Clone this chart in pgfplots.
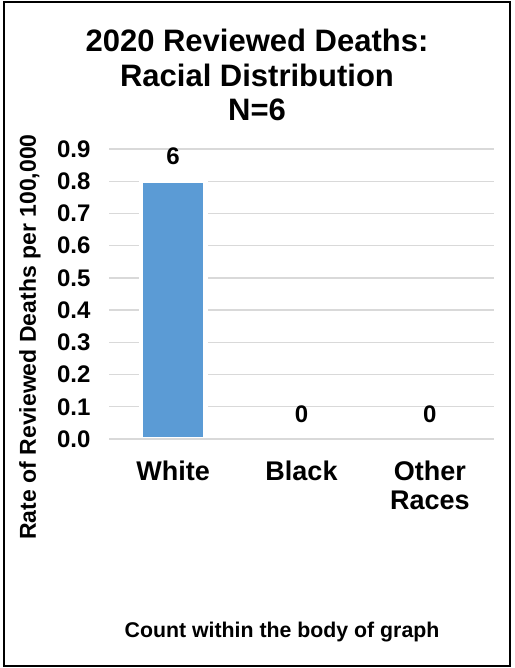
\documentclass[border=0pt]{standalone}
\usepackage{fontspec}
\setmainfont{Liberation Sans}
\usepackage{pgfplots}
\pgfplotsset{compat=1.18}
\definecolor{barblue}{HTML}{5B9BD5}
\definecolor{gridgray}{HTML}{D9D9D9}
\begin{document}
\begin{tikzpicture}[x=1pt,y=1pt]
\useasboundingbox (0,0) rectangle (514,668);
\fill[white] (0,0) rectangle (514,668);
\draw[line width=2.2pt] (4,2) rectangle (510,666);
\node[anchor=base, font=\fontsize{31}{35}\selectfont\bfseries] at (257,616) {2020 Reviewed Deaths:};
\node[anchor=base, font=\fontsize{31}{35}\selectfont\bfseries] at (257,581) {Racial Distribution};
\node[anchor=base, font=\fontsize{31}{35}\selectfont\bfseries] at (257,547) {N=6};
\node[rotate=90, font=\fontsize{23}{27}\selectfont\bfseries] at (30,331) {Rate of Reviewed Deaths per 100,000};
\node[anchor=base, font=\fontsize{21.3}{25}\selectfont\bfseries] at (282,30) {Count within the body of graph};
\begin{axis}[
  at={(109pt,229pt)}, anchor=south west,
  scale only axis, width=385pt, height=290pt,
  xmin=-0.5, xmax=2.5, ymin=0, ymax=0.9,
  axis x line*=bottom, axis y line*=left,
  y axis line style={draw=none},
  x axis line style={gridgray, line width=1.4pt},
  ytick={0,0.1,0.2,0.3,0.4,0.5,0.6,0.7,0.8,0.9},
  yticklabels={0.0,0.1,0.2,0.3,0.4,0.5,0.6,0.7,0.8,0.9},
  ytick style={draw=none},
  ymajorgrids, grid style={gridgray, line width=1.4pt},
  yticklabel style={font=\fontsize{24}{28}\selectfont\bfseries, anchor=east, xshift=-15pt},
  xtick={0,1,2},
  xticklabels={White,Black,Other\\Races},
  xtick style={draw=none},
  xticklabel style={font=\fontsize{27}{29}\selectfont\bfseries, align=center, anchor=north, yshift=-14pt},
  extra x ticks={-0.5,0.5,1.5,2.5},
  extra x tick labels={},
  extra x tick style={tick align=outside, major tick length=7pt, tick style={draw=gridgray, line width=1.4pt}},
  /pgf/number format/assume math mode=true,
  ybar, bar width=64.5pt,
  nodes near coords={\pgfplotspointmeta},
  point meta=explicit symbolic,
  every node near coord/.append style={font=\fontsize{24}{28}\selectfont\bfseries, anchor=south, yshift=11pt, text=black},
  clip=false,
]
\addplot[fill=barblue, draw=white, line width=4.5pt] table[meta=lab] {
x y lab
0 0.80 6
1 0 0
2 0 0
};
\draw[gridgray, line width=1.4pt] (rel axis cs:0,0) -- (rel axis cs:1,0);
\end{axis}
\end{tikzpicture}
\end{document}
